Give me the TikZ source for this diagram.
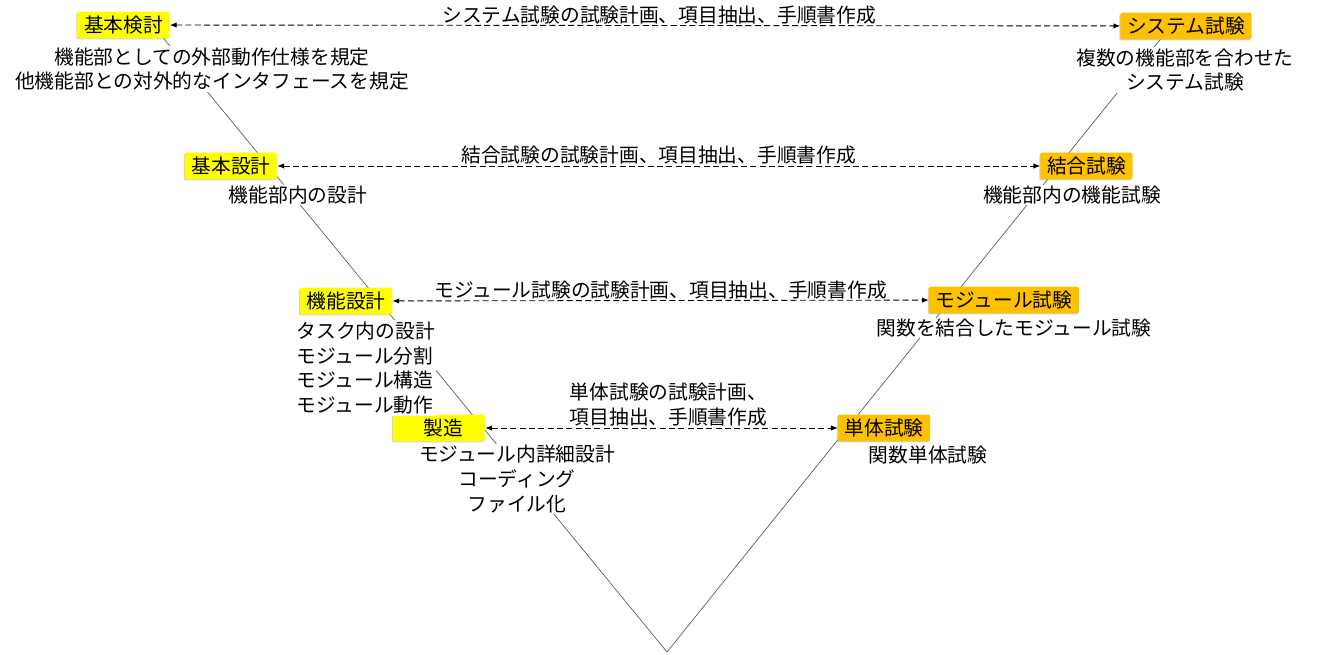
\documentclass[tikz,border=0pt]{standalone}
\usepackage{fontspec}
\setmainfont{Noto Sans CJK JP}
\usepackage{xcolor}
\usetikzlibrary{arrows.meta}
\usetikzlibrary{shadows}
\definecolor{designyellow}{RGB}{255,255,0}
\definecolor{testorange}{RGB}{255,192,0}
\tikzset{
    designbox/.style = {rectangle, rounded corners=1.5pt, fill=designyellow, inner xsep=5pt, inner ysep=1pt, minimum width=69pt, minimum height=20pt, drop shadow={shadow xshift=-0.8pt, shadow yshift=-0.8pt, opacity=0.35}},
    testbox/.style = {rectangle, rounded corners=1.5pt, fill=testorange, inner xsep=5pt, inner ysep=1pt, minimum width=69pt, minimum height=20pt, drop shadow={shadow xshift=-0.8pt, shadow yshift=-0.8pt, opacity=0.35}},
    notetext/.style = {fill=white, inner sep=1pt, align=center},
}

\begin{document}
\begin{tikzpicture}[
	x=0.75pt, y=-0.75pt,
	font=\fontsize{14.8}{18.6}\selectfont
]
\tikzset{
    edgev/.style = {-, line width=0.5pt, gray!70!black},
    edged/.style = {{Latex[length=5pt,width=4pt]}-{Latex[length=5pt,width=4pt]}, line width=0.65pt, dash pattern=on 4.5pt off 2.5pt},
}
\useasboundingbox (0,0) rectangle (1326,655);
% V shape
\coordinate (vtip) at (667,652);
\coordinate (vleft) at (160,34);
\coordinate (vright) at (1163,36);
\draw[edgev] (vleft) -- (vtip) -- (vright);
%
\node[designbox] at (123.5,25) (kentou) {基本検討};
\node[designbox] at (231,166) (kihon) {基本設計};
\node[designbox] at (346,301) (kinou) {機能設計};
\node[designbox] at (439,428) (seizo) {\hspace*{6pt}製造};
%
\node[testbox] at (1186,26) (systest) {システム試験};
\node[testbox] at (1086.5,166) (ketsugo) {結合試験};
\node[testbox] at (1004,300) (modtest) {モジュール試験};
\node[testbox] at (884,428) (tantai) {単体試験};
%
\node[notetext] at (212,69) (kentoutext) {機能部としての外部動作仕様を規定\\他機能部との対外的なインタフェースを規定};
\node[notetext] at (298,195) (kihontext) {機能部内の設計};
\node[notetext,align=left,anchor=west] at (295,368) (kinoutext) {タスク内の設計\\モジュール分割\\モジュール構造\\モジュール動作};
\node[notetext] at (517,479) (seizotext) {モジュール内詳細設計\\コーディング\\ファイル化};
%
\node[notetext] at (1185,70) (systext) {複数の機能部を合わせた\\システム試験};
\node[notetext] at (1072,195) (ketsugotext) {機能部内の機能試験};
\node[notetext] at (1014,328) (modtext) {関数を結合したモジュール試験};
\node[notetext] at (928,455) (tantaitext) {関数単体試験};
%
\draw[edged] (kentou) edge node[above,inner sep=1pt,pos=0.515] {システム試験の試験計画、項目抽出、手順書作成} (systest);
\draw[edged] (kihon) edge node[above,inner sep=1pt] {結合試験の試験計画、項目抽出、手順書作成} (ketsugo);
\draw[edged] (kinou) edge node[above,inner sep=1pt] {モジュール試験の試験計画、項目抽出、手順書作成} (modtest);
\draw[edged] (seizo) edge node[above,inner sep=1pt,align=center,pos=0.52] {単体試験の試験計画、\\項目抽出、手順書作成} (tantai);
\end{tikzpicture}
\end{document}
